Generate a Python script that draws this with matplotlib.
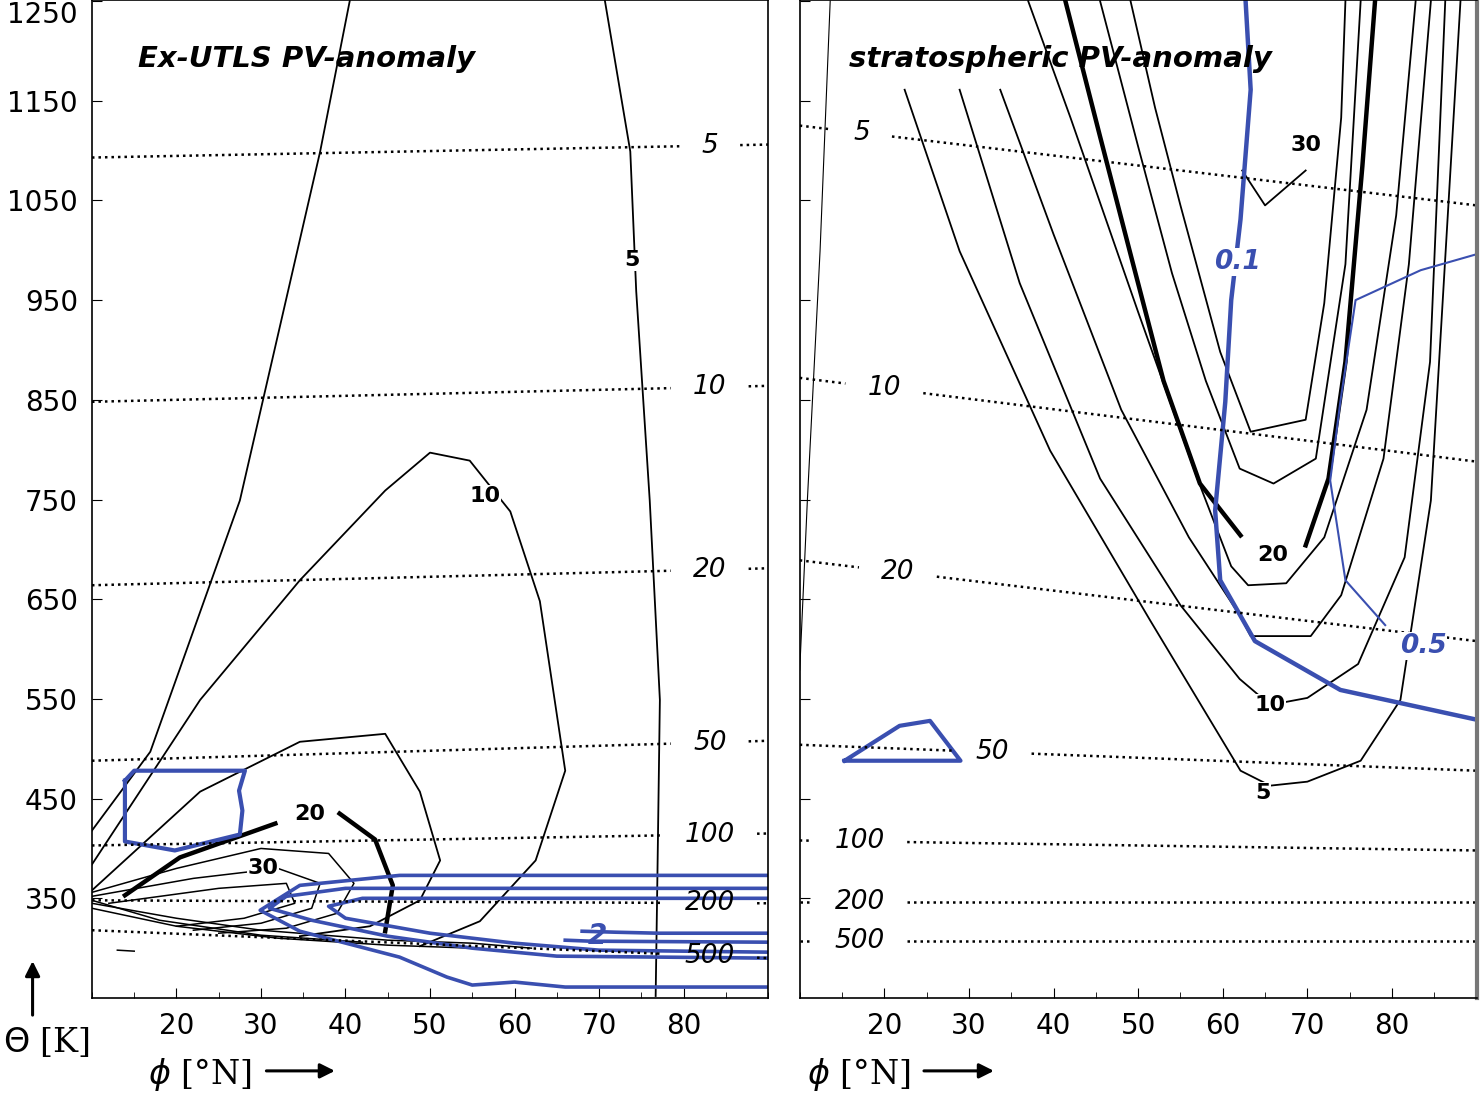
import numpy as np
import matplotlib.pyplot as plt
from matplotlib.patches import FancyArrowPatch

# ---------------- data (lat in deg N, theta in K) ----------------
# left panel: Ex-UTLS PV anomaly, black contours
l5_lat = [70.7, 73.7, 74.4, 76.0, 77.2, 76.9, 76.7]
l5_th = [1250, 1099, 959, 749, 549, 367, 252]
lout_lat = [40.5, 37.0, 27.5, 16.9, 10]
lout_th = [1250, 1099, 749, 497, 418]
l10_lat = [10, 22.8, 34.6, 44.7, 50, 54.7, 59.5, 63, 66, 62.5, 55.9, 48.8]
l10_th = [384, 549, 669, 759, 797, 789, 738, 648, 478, 388, 327, 302]
lin_lat = [10, 22.8, 34.6, 44.7, 48.8, 51.2, 48.8, 42.9, 34.6]
lin_th = [358, 457, 507, 515, 457, 388, 348, 322, 312]
l20a_lat = [13.9, 20.4, 31.7]
l20a_th = [353, 391, 425]
l20b_lat = [39.3, 43.5, 45.6, 44.7]
l20b_th = [435, 409, 363, 317]
small_lines = [
    ([10, 20, 30, 38, 41, 39, 33, 25], [356, 380, 400, 395, 365, 335, 320, 315]),
    ([10, 22, 32, 37, 36, 30, 22], [352, 370, 380, 365, 340, 325, 318]),
    ([12, 25, 33, 34, 28, 20], [345, 360, 365, 345, 330, 322]),
    ([10, 20, 30, 45, 55, 62], [345, 330, 318, 308, 305, 300]),
    ([10, 20, 32, 45, 55], [340, 322, 310, 303, 300]),
    ([10, 18, 30, 42], [348, 328, 313, 306]),
    ([13, 15], [298, 297]),
]
# left blue contours
lbox_lat = [13.9, 15, 28.1, 27.4, 27.8, 27.5, 19.8, 13.9, 13.9]
lbox_th = [468, 478, 478, 458, 438, 414, 398, 407, 468]
lblue = [
    ([90, 46.4, 34.6, 29.9, 34.6, 46.4, 52, 55, 60, 66, 90], [373, 373, 363, 338, 317, 291, 271, 263, 266, 261, 261]),
    ([90, 40, 33, 31, 36, 45, 55, 65, 90], [360, 360, 352, 340, 328, 312, 300, 292, 290]),
    ([90, 42, 38, 40, 50, 60, 70, 90], [350, 350, 342, 330, 315, 305, 298, 296]),
    ([68, 72, 77, 90], [317, 316, 315, 315]),
    ([66, 69, 90], [308, 307, 306]),
]
# right panel: stratospheric PV anomaly
rthin_lat = [10, 10.9, 12.4, 13.6]
rthin_th = [579, 749, 999, 1250]
rA_lat = [22.4, 28.9, 39.6, 51.4, 62.1, 65.6, 70, 76.3, 81, 84.6, 88.1]
rA_th = [1161, 999, 799, 629, 478, 463, 467, 488, 549, 749, 1250]
rB_lat = [28.9, 36, 45.5, 55, 62, 65.6, 70, 76, 81.5, 84.5, 86.3]
rB_th = [1161, 967, 771, 644, 570, 544, 551, 585, 692, 888, 1250]
rC_lat = [33.7, 40, 48, 56, 62, 63.3, 70.4, 74, 79, 82, 84.6]
rC_th = [1161, 1016, 840, 712, 634, 613, 613, 654, 791, 986, 1250]
rG_lat = [37, 42, 50, 57, 61, 63, 67.5, 72, 77, 80.5, 82.8]
rG_th = [1250, 1133, 938, 771, 683, 664, 666, 712, 840, 1035, 1250]
rD1_lat = [41.4, 45.5, 49.1, 53, 57.3, 62.1]
rD1_th = [1250, 1114, 996, 869, 766, 714]
rD2_lat = [69.8, 72.5, 74.5, 76.5, 78]
rD2_th = [704, 771, 888, 1084, 1250]
rE_lat = [45.5, 50, 54, 58, 62, 66, 71, 74.5, 76.3]
rE_th = [1250, 1104, 977, 869, 781, 766, 791, 986, 1250]
rF_lat = [49.1, 52, 55, 59.7, 63.3, 69.8, 72, 74, 74.5]
rF_th = [1250, 1143, 1045, 898, 818, 830, 947, 1133, 1250]
rk_lat = [62.3, 65, 69.8]
rk_th = [1080, 1045, 1080]
rblue1_lat = [62.7, 63.3, 62.1, 61, 60.3, 59.1, 59.7, 63.8, 73.9, 90.1]
rblue1_th = [1250, 1161, 1031, 950, 848, 739, 669, 608, 559, 529]
rblue2_lat = [90, 83.4, 75.7, 73.9, 72.7, 74.5, 79.2]
rblue2_th = [996, 980, 950, 848, 769, 669, 624]
rtri_lat = [15.3, 21.8, 25.4, 29, 15.3]
rtri_th = [488, 523, 528, 488, 488]

# pressure levels (hPa): theta at 10N and at 90N, label latitude
p_labels = ["5", "10", "20", "50", "100", "200", "500"]
lp_th0 = [1093, 848, 664, 488, 403, 348, 318]
lp_th1 = [1106, 864, 681, 508, 415, 345, 290]
lp_lab = [83.1] * 7
rp_th0 = [1125, 872, 689, 504, 408, 346, 307]
rp_th1 = [1045, 788, 608, 478, 398, 346, 307]
rp_lab = [17.3, 20.0, 21.6, 32.8, 17.1, 17.1, 17.1]

yticks = [350, 450, 550, 650, 750, 850, 950, 1050, 1150, 1250]
xticks = [20, 30, 40, 50, 60, 70, 80]

BLUE = "#3a4fb0"

fig = plt.figure(figsize=(14.81, 11.04), dpi=100)
axL = fig.add_axes([0.0621, 0.096, 0.4565, 0.904])
axR = fig.add_axes([0.540, 0.096, 0.457, 0.904])


def pressure_lines(ax, th0, th1, lab):
    for name, a, b, xl in zip(p_labels, th0, th1, lab):
        f = lambda x: a + (b - a) * (x - 10) / 80.0
        w = 2.6 + 1.0 * len(name)
        for x0, x1 in [(10, xl - w), (xl + w, 90)]:
            if x1 > x0:
                ax.plot([x0, x1], [f(x0), f(x1)], ls=(0, (1, 1.6)), color="k", lw=1.8)
        ax.text(xl, f(xl), name, ha="center", va="center", fontsize=19, style="italic")


for ax in (axL, axR):
    ax.set_xlim(10, 90)
    ax.set_ylim(250, 1251)
    ax.set_xticks(xticks)
    ax.set_xticks(range(10, 91, 5), minor=True)
    ax.set_yticks(yticks)
    ax.tick_params(direction="in", length=7, labelsize=20, pad=10)
    ax.tick_params(which="minor", direction="in", length=4)
    for s in ax.spines.values():
        s.set_linewidth(1.2)

axR.set_yticklabels([])
axR.spines["right"].set_color("#777777")
axR.spines["right"].set_linewidth(3)

# keep the top label inside the figure, as in the reference
fig.canvas.draw()
axL.get_yticklabels()[-1].set_verticalalignment("top")

# left panel
for la, th, lw in [(l5_lat, l5_th, 1.3), (lout_lat, lout_th, 1.3), (l10_lat, l10_th, 1.3),
                   (lin_lat, lin_th, 1.3), (l20a_lat, l20a_th, 3.2), (l20b_lat, l20b_th, 3.2)]:
    axL.plot(la, th, color="k", lw=lw)
for la, th in small_lines:
    axL.plot(la, th, color="k", lw=1.1)
axL.plot(lbox_lat, lbox_th, color=BLUE, lw=3)
for la, th in lblue:
    axL.plot(la, th, color=BLUE, lw=2.6)
pressure_lines(axL, lp_th0, lp_th1, lp_lab)
for s, la, th in [("5", 73.9, 990), ("10", 56.5, 754), ("20", 35.8, 435), ("30", 30.2, 380)]:
    axL.text(la, th, s, ha="center", va="center", fontsize=16, fontweight="bold",
             bbox=dict(facecolor="white", edgecolor="none", pad=0.5))
axL.text(69.8, 312, "2", color=BLUE, fontsize=20, fontweight="bold", style="italic",
         ha="center", va="center")
axL.text(15.4, 1192, "Ex-UTLS PV-anomaly", fontsize=21, fontweight="bold", style="italic",
         va="center")

# right panel
axR.plot(rthin_lat, rthin_th, color="k", lw=0.8)
for la, th in [(rA_lat, rA_th), (rB_lat, rB_th), (rC_lat, rC_th), (rG_lat, rG_th),
               (rE_lat, rE_th), (rF_lat, rF_th), (rk_lat, rk_th)]:
    axR.plot(la, th, color="k", lw=1.3)
axR.plot(rD1_lat, rD1_th, color="k", lw=3.2)
axR.plot(rD2_lat, rD2_th, color="k", lw=3.2)
axR.plot(rblue1_lat, rblue1_th, color=BLUE, lw=3.2)
axR.plot(rblue2_lat, rblue2_th, color=BLUE, lw=1.5)
axR.plot(rtri_lat, rtri_th, color=BLUE, lw=3)
pressure_lines(axR, rp_th0, rp_th1, rp_lab)
for s, la, th in [("30", 69.8, 1106), ("20", 65.9, 694), ("10", 65.6, 544), ("5", 64.7, 456)]:
    axR.text(la, th, s, ha="center", va="center", fontsize=16, fontweight="bold",
             bbox=dict(facecolor="white", edgecolor="none", pad=0.5))
axR.text(61.7, 988, "0.1", color=BLUE, fontsize=19, fontweight="bold", style="italic",
         ha="center", va="center", bbox=dict(facecolor="white", edgecolor="none", pad=0.5))
axR.text(83.7, 603, "0.5", color=BLUE, fontsize=19, fontweight="bold", style="italic",
         ha="center", va="center", bbox=dict(facecolor="white", edgecolor="none", pad=0.5))
axR.text(15.8, 1192, "stratospheric PV-anomaly", fontsize=21, fontweight="bold",
         style="italic", va="center")

# axis captions
fig.text(0.002, 0.047, r"$\Theta$ [K]", fontsize=24, family="DejaVu Serif")
fig.text(0.100, 0.018, r"$\phi$ [°N]", fontsize=24, family="DejaVu Serif")
fig.text(0.545, 0.018, r"$\phi$ [°N]", fontsize=24, family="DejaVu Serif")
arr = dict(arrowstyle="-|>", color="k", lw=2.2, mutation_scale=22)
fig.add_artist(FancyArrowPatch((0.022, 0.078), (0.022, 0.132), transform=fig.transFigure, **arr))
fig.add_artist(FancyArrowPatch((0.178, 0.030), (0.228, 0.030), transform=fig.transFigure, **arr))
fig.add_artist(FancyArrowPatch((0.622, 0.030), (0.673, 0.030), transform=fig.transFigure, **arr))

fig.savefig("out.png", dpi=100)
